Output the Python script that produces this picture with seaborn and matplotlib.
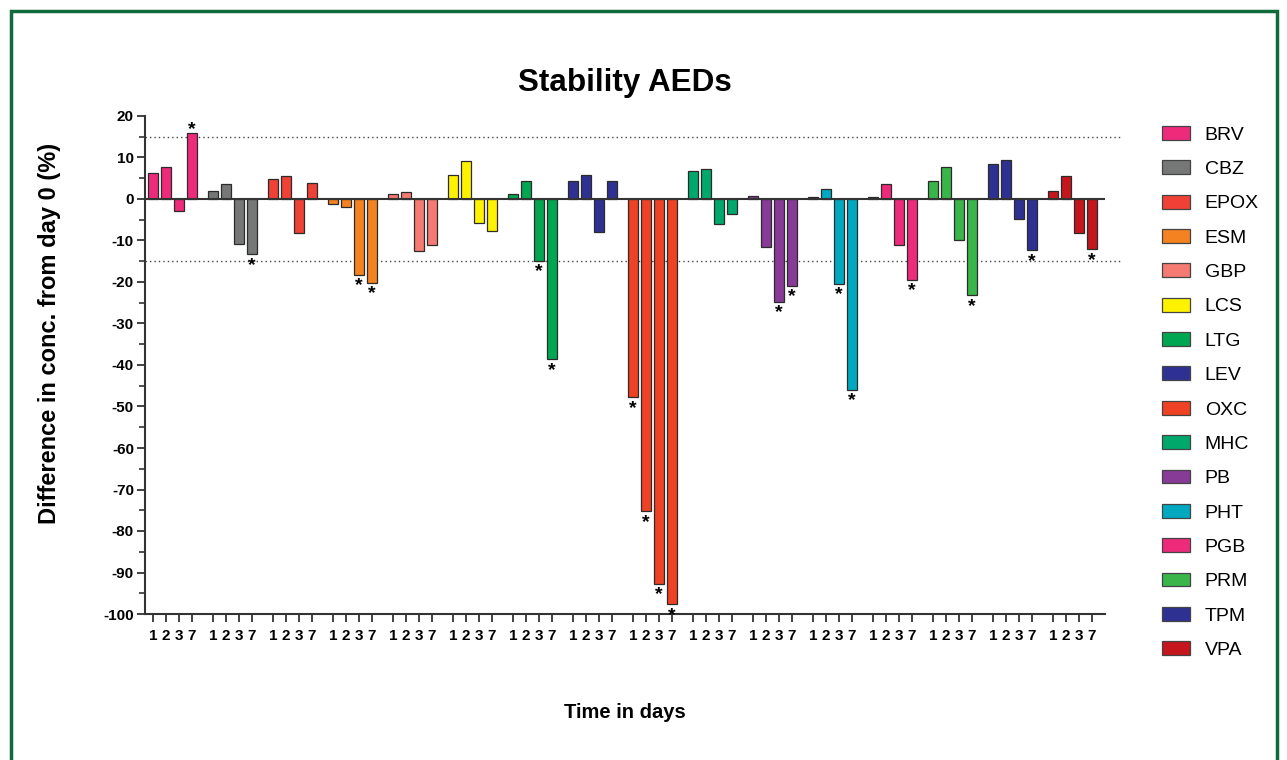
import numpy as np
import pandas as pd
import matplotlib
matplotlib.use("Agg")
import matplotlib.pyplot as plt
from matplotlib.patches import Rectangle
from matplotlib.ticker import MultipleLocator
import seaborn as sns

# ---------------- data ----------------
drugs = ["BRV", "CBZ", "EPOX", "ESM", "GBP", "LCS", "LTG", "LEV",
         "OXC", "MHC", "PB", "PHT", "PGB", "PRM", "TPM", "VPA"]
days = ["1", "2", "3", "7"]

day1 = [6.2, 2.0, 4.8, -1.3, 1.3, 5.8, 1.3, 4.4, -47.8, 6.7, 0.8, 0.5, 0.6, 4.4, 8.4, 2.0]
day2 = [7.8, 3.6, 5.5, -2.0, 1.8, 9.2, 4.3, 5.8, -75.3, 7.3, -11.5, 2.3, 3.6, 7.7, 9.5, 5.5]
day3 = [-2.9, -10.9, -8.1, -18.3, -12.6, -5.9, -14.9, -7.9, -92.8, -6.1, -24.8, -20.5, -11.2, -10.0, -4.7, -8.3]
day7 = [15.8, -13.3, 3.9, -20.2, -11.2, -7.8, -38.6, 4.3, -97.7, -3.7, -20.9, -46.0, -19.4, -23.2, -12.4, -12.1]

# significant (*) per day
sig1 = ["OXC"]
sig2 = ["OXC"]
sig3 = ["ESM", "LTG", "OXC", "PB", "PHT"]
sig7 = ["BRV", "CBZ", "ESM", "LTG", "OXC", "PB", "PHT", "PGB", "PRM", "TPM", "VPA"]

colors = ["#EE2A7B", "#767878", "#EF4136", "#F58220", "#F47A72", "#FFF200",
          "#00A651", "#2E3192", "#EF4123", "#00A86B", "#873A96", "#00A9BF",
          "#EE2A7B", "#39B54A", "#2E3192", "#C4161C"]

limit_lines = [15, -15]

# ---------------- build table ----------------
group_step = 60 / 13
values_by_day = [day1, day2, day3, day7]
sig_by_day = [sig1, sig2, sig3, sig7]
rows = []
for g, drug in enumerate(drugs):
    for j, d in enumerate(days):
        rows.append({"drug": drug, "day": d,
                     "value": values_by_day[j][g],
                     "sig": drug in sig_by_day[j],
                     "pos": round(g * group_step + j, 4)})
df = pd.DataFrame(rows)
palette = dict(zip(drugs, colors))

# ---------------- style ----------------
sns.set_theme(style="white")
plt.rcParams["font.family"] = ["Liberation Sans", "DejaVu Sans"]
plt.rcParams["axes.edgecolor"] = "#333333"
plt.rcParams["axes.unicode_minus"] = False
plt.rcParams["text.color"] = "black"
plt.rcParams["axes.labelcolor"] = "black"
plt.rcParams["xtick.color"] = "black"
plt.rcParams["ytick.color"] = "black"

fig = plt.figure(figsize=(12.87, 7.6), dpi=100)
ax = fig.add_axes([145 / 1287, 1 - 614 / 760, 960 / 1287, 498 / 760])

sns.barplot(data=df, x="pos", y="value", hue="drug", hue_order=drugs,
            palette=palette, saturation=1, native_scale=True, dodge=False,
            width=0.7, edgecolor="#2b2b2b", linewidth=0.9, errorbar=None,
            ax=ax, legend=True, zorder=3)

xmax = df["pos"].max() + 1.0
ax.set_xlim(-8 / 13, xmax)
ax.set_ylim(-100, 20)

# zero line and +/-15% limits
ax.axhline(0, color="#333333", lw=1.5, zorder=4)
for lv in limit_lines:
    ax.axhline(lv, xmin=0, xmax=1.017, color="#444444", lw=1.0,
               ls=(0, (1, 2.2)), clip_on=False, zorder=2)

# significance stars
for _, r in df[df["sig"]].iterrows():
    off = -3 if r["value"] >= 0 else -14
    ax.annotate("*", (r["pos"], r["value"]), xytext=(0, off),
                textcoords="offset points", ha="center", va="bottom",
                fontsize=14, fontweight="bold", color="black",
                annotation_clip=False, zorder=5)

# spines
sns.despine(ax=ax)
for s in ["left", "bottom"]:
    ax.spines[s].set_linewidth(1.5)
    ax.spines[s].set_color("#333333")

# ticks
ax.set_xticks(df["pos"].tolist())
ax.set_xticklabels(df["day"].tolist(), fontsize=11, fontweight="bold")
ax.yaxis.set_major_locator(MultipleLocator(10))
ax.yaxis.set_minor_locator(MultipleLocator(5))
ax.tick_params(axis="x", which="major", direction="out", length=6, width=1.3,
               color="#333333", pad=5, bottom=True)
ax.tick_params(axis="y", which="major", direction="out", length=6, width=1.3,
               color="#333333", pad=2, left=True)
ax.tick_params(axis="y", which="minor", direction="out", length=4, width=1.2,
               color="#333333", left=True)
for lab in ax.get_yticklabels():
    lab.set_fontweight("bold")
    lab.set_fontsize(11)

# labels / title
ax.set_xlabel("Time in days", fontsize=14.5, fontweight="bold")
ax.xaxis.set_label_coords(0.5, -(703 - 614) / 498)
ax.set_ylabel("Difference in conc. from day 0 (%)", fontsize=17, fontweight="bold")
ax.yaxis.set_label_coords(-(145 - 61) / 960, (614 - 333) / 498)
ax.text(0.5, (614 - 83) / 498, "Stability AEDs", transform=ax.transAxes,
        ha="center", va="center", fontsize=22.6, fontweight="bold")

# legend
handles, labels = ax.get_legend_handles_labels()
leg = ax.legend(handles, labels, loc="upper left",
                bbox_to_anchor=(1162 / 1287, 1 - 126 / 760),
                bbox_transform=fig.transFigure, frameon=False, fontsize=14,
                handlelength=1.45, handleheight=0.72, handletextpad=0.75,
                labelspacing=0.855, borderpad=0, borderaxespad=0)
for h in leg.legend_handles:
    h.set_edgecolor("#444444")
    h.set_linewidth(0.9)

# green frame around figure
fig.patches.append(Rectangle((11 / 1287, -0.05), (1277 - 11) / 1287, 1.05 - 11 / 760,
                             transform=fig.transFigure, fill=False,
                             edgecolor="#0F6B3C", linewidth=2.5))

fig.savefig("out.png", dpi=100)
